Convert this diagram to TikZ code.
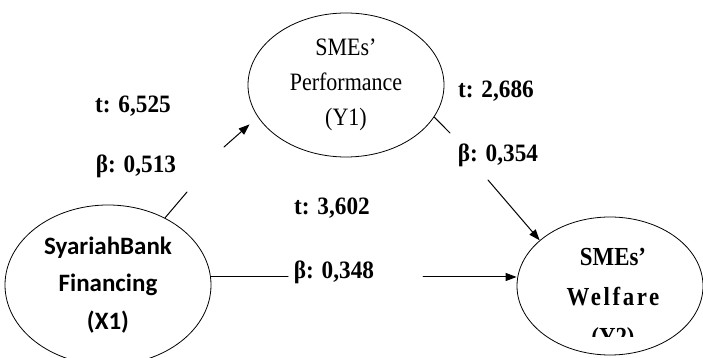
\documentclass[tikz,border=0pt]{standalone}
\usepackage{fontspec}
\setmainfont{Liberation Serif}
\newfontfamily\calfont{Carlito}
\newfontfamily\labfont[FakeStretch=0.93]{Liberation Serif}
\newfontfamily\yfont[FakeStretch=0.88]{Liberation Serif}
\newfontfamily\wfont[FakeStretch=0.88,LetterSpace=10]{Liberation Serif}
\usetikzlibrary{shapes.geometric,arrows.meta}
\begin{document}
\begin{tikzpicture}[x=1pt,y=1pt,>={Triangle[length=11pt,width=8pt]}, line join=round, line cap=round,
	var/.style={draw, ellipse, line width=0.8pt, inner sep=0pt, align=center},
	coef/.style={anchor=base, font=\labfont\fontsize{25}{30}\selectfont\bfseries},
	link/.style={line width=1pt}]
	\useasboundingbox (0,0) rectangle (703,358);
	\node[var, minimum width=206pt, minimum height=160pt, font=\calfont\fontsize{25}{37.5}\selectfont\bfseries] (X1) at (108,73) {SyariahBank\\Financing\\(X1)};
	\node[var, minimum width=196pt, minimum height=144pt, font=\yfont\fontsize{25}{35}\selectfont] (Y1) at (346,273) {SMEs’\\Performance\\(Y1)};
	\node[var, minimum width=186pt, minimum height=138pt] (Y2) at (610,72) {};
	\begin{scope}
		\clip (500,21) rectangle (703,160);
		\node[align=center, font=\yfont\fontsize{26}{40}\selectfont\bfseries] (Y2txt) at (613,58) {SMEs’\\{\wfont\bfseries Welfare}\\(Y2)};
	\end{scope}
	\coordinate (c1) at (187,166); \coordinate (c2) at (224,211);
	\coordinate (c3) at (450,225); \coordinate (c4) at (488,178);
	\coordinate (c5) at (288,81); \coordinate (c6) at (423,81);
	\draw[link] (X1) -- (c1);
	\draw[link,->,shorten >=11pt] (c2) -- (Y1.200);
	\draw[link] (Y1.340) -- (c3);
	\draw[link,->] (c4) -- (Y2.147);
	\draw[link] (c5 -| X1.east) -- (c5);
	\draw[link,->] (c6) -- (c6 -| Y2.west);
	\node[coef] (t1) at (133,245) {t: 6,525};
	\node[coef] (b1) at (136,185) {β: 0,513};
	\node[coef] (t2) at (332,143) {t: 3,602};
	\node[coef] (b2) at (334,79) {β: 0,348};
	\node[coef] (t3) at (496,260) {t: 2,686};
	\node[coef] (b3) at (498,196) {β: 0,354};
\end{tikzpicture}
\end{document}
